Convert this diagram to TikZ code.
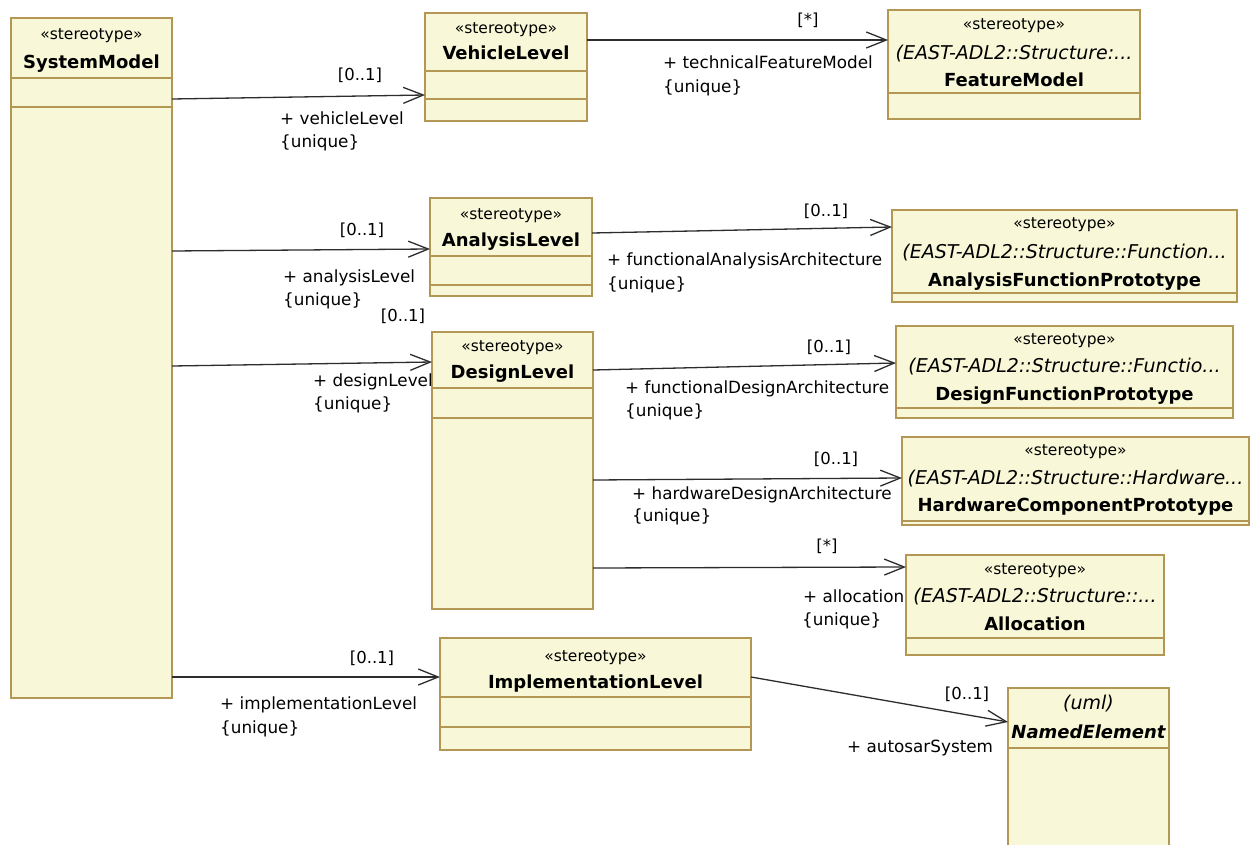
\documentclass[tikz,border=0pt]{standalone}
\usepackage{fontspec}
\setmainfont{DejaVu Sans}
\usetikzlibrary{arrows.meta}

\definecolor{boxfill}{RGB}{248,248,216}
\definecolor{boxline}{RGB}{180,150,85}
\definecolor{wire}{RGB}{45,45,45}

\tikzset{
  classbox/.style={draw=boxline, fill=boxfill, line width=1.4pt, inner sep=0pt,
    outer sep=0pt, anchor=north west},
  divider/.style={draw=boxline, line width=1.4pt},
  txt/.style={inner sep=0pt, yshift=-4pt},
  stereo/.style={txt, font=\fontsize{15.5}{18}\selectfont, anchor=mid},
  qual/.style={txt, font=\fontsize{19}{22}\selectfont\itshape, anchor=mid},
  cname/.style={txt, font=\fontsize{18}{21}\selectfont\bfseries, anchor=mid},
  role/.style={txt, font=\fontsize{16.8}{19}\selectfont, anchor=mid west},
  mult/.style={txt, font=\fontsize{16.5}{19}\selectfont, anchor=mid},
  assoc/.style={draw=wire, line width=1.3pt, -{Straight Barb[length=20pt,width=16pt]}},
}

% class rectangle: name, left, top, right, bottom (y grows downwards)
\newcommand\umlclass[5]{%
  \node[classbox, minimum width={(#4-#2)*1pt}, minimum height={(#5-#3)*1pt}]
    (#1) at (#2,#3) {};}
% horizontal compartment line inside a class
\newcommand\umlsep[2]{\draw[divider] (#1.west |- 0,#2) -- (#1.east |- 0,#2);}

\begin{document}
\begin{tikzpicture}[x=1pt, y=-1pt]
  \clip (0,0) rectangle (1253,845);
  \fill[white] (0,0) rectangle (1253,845);

  % ---- classes ----
  \umlclass{sm}{11}{18}{172}{698}
  \umlsep{sm}{78} \umlsep{sm}{107}
  \node[stereo] (sm-st) at (sm.north |- 0,33) {«stereotype»};
  \node[cname]  (sm-nm) at (sm.north |- 0,62) {SystemModel};

  \umlclass{vl}{425}{13}{587}{121}
  \umlsep{vl}{71} \umlsep{vl}{99}
  \node[stereo] (vl-st) at (vl.north |- 0,27) {«stereotype»};
  \node[cname]  (vl-nm) at (vl.north |- 0,53) {VehicleLevel};

  \umlclass{fm}{888}{10}{1140}{119}
  \umlsep{fm}{93}
  \node[stereo] (fm-st) at (fm.north |- 0,23) {«stereotype»};
  \node[qual]   (fm-ql) at (fm.north |- 0,53) {(EAST-ADL2::Structure:...};
  \node[cname]  (fm-nm) at (fm.north |- 0,80) {FeatureModel};

  \umlclass{al}{430}{198}{592}{296}
  \umlsep{al}{256} \umlsep{al}{285}
  \node[stereo] (al-st) at (al.north |- 0,213) {«stereotype»};
  \node[cname]  (al-nm) at (al.north |- 0,240) {AnalysisLevel};

  \umlclass{afp}{892}{210}{1237}{302}
  \umlsep{afp}{293}
  \node[stereo] (afp-st) at (afp.north |- 0,222) {«stereotype»};
  \node[qual]   (afp-ql) at (afp.north |- 0,252) {(EAST-ADL2::Structure::Function...};
  \node[cname]  (afp-nm) at (afp.north |- 0,280) {AnalysisFunctionPrototype};

  \umlclass{dl}{432}{332}{593}{609}
  \umlsep{dl}{388} \umlsep{dl}{418}
  \node[stereo] (dl-st) at (dl.north |- 0,345) {«stereotype»};
  \node[cname]  (dl-nm) at (dl.north |- 0,372) {DesignLevel};

  \umlclass{dfp}{896}{326}{1233}{418}
  \umlsep{dfp}{408}
  \node[stereo] (dfp-st) at (dfp.north |- 0,338) {«stereotype»};
  \node[qual]   (dfp-ql) at (dfp.north |- 0,366) {(EAST-ADL2::Structure::Functio...};
  \node[cname]  (dfp-nm) at (dfp.north |- 0,394) {DesignFunctionPrototype};

  \umlclass{hcp}{902}{437}{1249}{525}
  \umlsep{hcp}{521}
  \node[stereo] (hcp-st) at (hcp.north |- 0,449) {«stereotype»};
  \node[qual]   (hcp-ql) at (hcp.north |- 0,478) {(EAST-ADL2::Structure::Hardware...};
  \node[cname]  (hcp-nm) at (hcp.north |- 0,505) {HardwareComponentPrototype};

  \umlclass{alloc}{906}{555}{1164}{655}
  \umlsep{alloc}{638}
  \node[stereo] (alloc-st) at (alloc.north |- 0,568) {«stereotype»};
  \node[qual]   (alloc-ql) at (alloc.north |- 0,596) {(EAST-ADL2::Structure::...};
  \node[cname]  (alloc-nm) at (alloc.north |- 0,624) {Allocation};

  \umlclass{il}{440}{638}{751}{750}
  \umlsep{il}{697} \umlsep{il}{727}
  \node[stereo] (il-st) at (il.north |- 0,655) {«stereotype»};
  \node[cname]  (il-nm) at (il.north |- 0,682) {ImplementationLevel};

  \umlclass{ne}{1008}{688}{1169}{870}
  \umlsep{ne}{748}
  \node[qual]   (ne-st) at (ne.north |- 0,703) {(uml)};
  \node[cname, font=\fontsize{18}{21}\selectfont\bfseries\itshape] (ne-nm) at (ne.north |- 0,732) {NamedElement};

  % ---- associations ----
  \draw[assoc] (sm.east |- 0,99) -- (vl.west |- 0,95);
  \node[mult] (m1) at (360,74) {[0..1]};
  \node[role] (r1) at (280,118) {+ vehicleLevel};
  \node[role] (u1) at (280,141) {\{unique\}};

  \draw[assoc] (vl.east |- 0,40) -- (fm.west |- 0,40);
  \node[mult] (m2) at (808,19) {[*]};
  \node[role] (r2) at (663,62) {+ technicalFeatureModel};
  \node[role] (u2) at (663,86) {\{unique\}};

  \draw[assoc] (sm.east |- 0,251) -- (al.west |- 0,249);
  \node[mult] (m3) at (362,229) {[0..1]};
  \node[role] (r3) at (283,276) {+ analysisLevel};
  \node[role] (u3) at (283,299) {\{unique\}};

  \draw[assoc] (al.east |- 0,233) -- (afp.west |- 0,227);
  \node[mult] (m4) at (826,210) {[0..1]};
  \node[role] (r4) at (607,259) {+ functionalAnalysisArchitecture};
  \node[role] (u4) at (607,283) {\{unique\}};

  \draw[assoc] (sm.east |- 0,366) -- (dl.west |- 0,362);
  \node[mult] (m5) at (403,315) {[0..1]};
  \node[role] (r5) at (313,380) {+ designLevel};
  \node[role] (u5) at (313,403) {\{unique\}};

  \draw[assoc] (dl.east |- 0,370) -- (dfp.west |- 0,363);
  \node[mult] (m6) at (829,346) {[0..1]};
  \node[role] (r6) at (625,387) {+ functionalDesignArchitecture};
  \node[role] (u6) at (625,410) {\{unique\}};

  \draw[assoc] (dl.east |- 0,480) -- (hcp.west |- 0,478);
  \node[mult] (m7) at (836,458) {[0..1]};
  \node[role] (r7) at (632,493) {+ hardwareDesignArchitecture};
  \node[role] (u7) at (632,515) {\{unique\}};

  \draw[assoc] (dl.east |- 0,568) -- (alloc.west |- 0,567);
  \node[mult] (m8) at (827,545) {[*]};
  \node[role] (r8) at (803,596) {+ allocation};
  \node[role] (u8) at (802,619) {\{unique\}};

  \draw[assoc] (sm.east |- 0,677) -- (il.west |- 0,677);
  \node[mult] (m9) at (372,657) {[0..1]};
  \node[role] (r9) at (220,703) {+ implementationLevel};
  \node[role] (u9) at (220,727) {\{unique\}};

  \draw[assoc] (il.east |- 0,677) -- (ne.west |- 0,722);
  \node[mult] (m10) at (967,693) {[0..1]};
  \node[role] (r10) at (847,746) {+ autosarSystem};
\end{tikzpicture}
\end{document}
